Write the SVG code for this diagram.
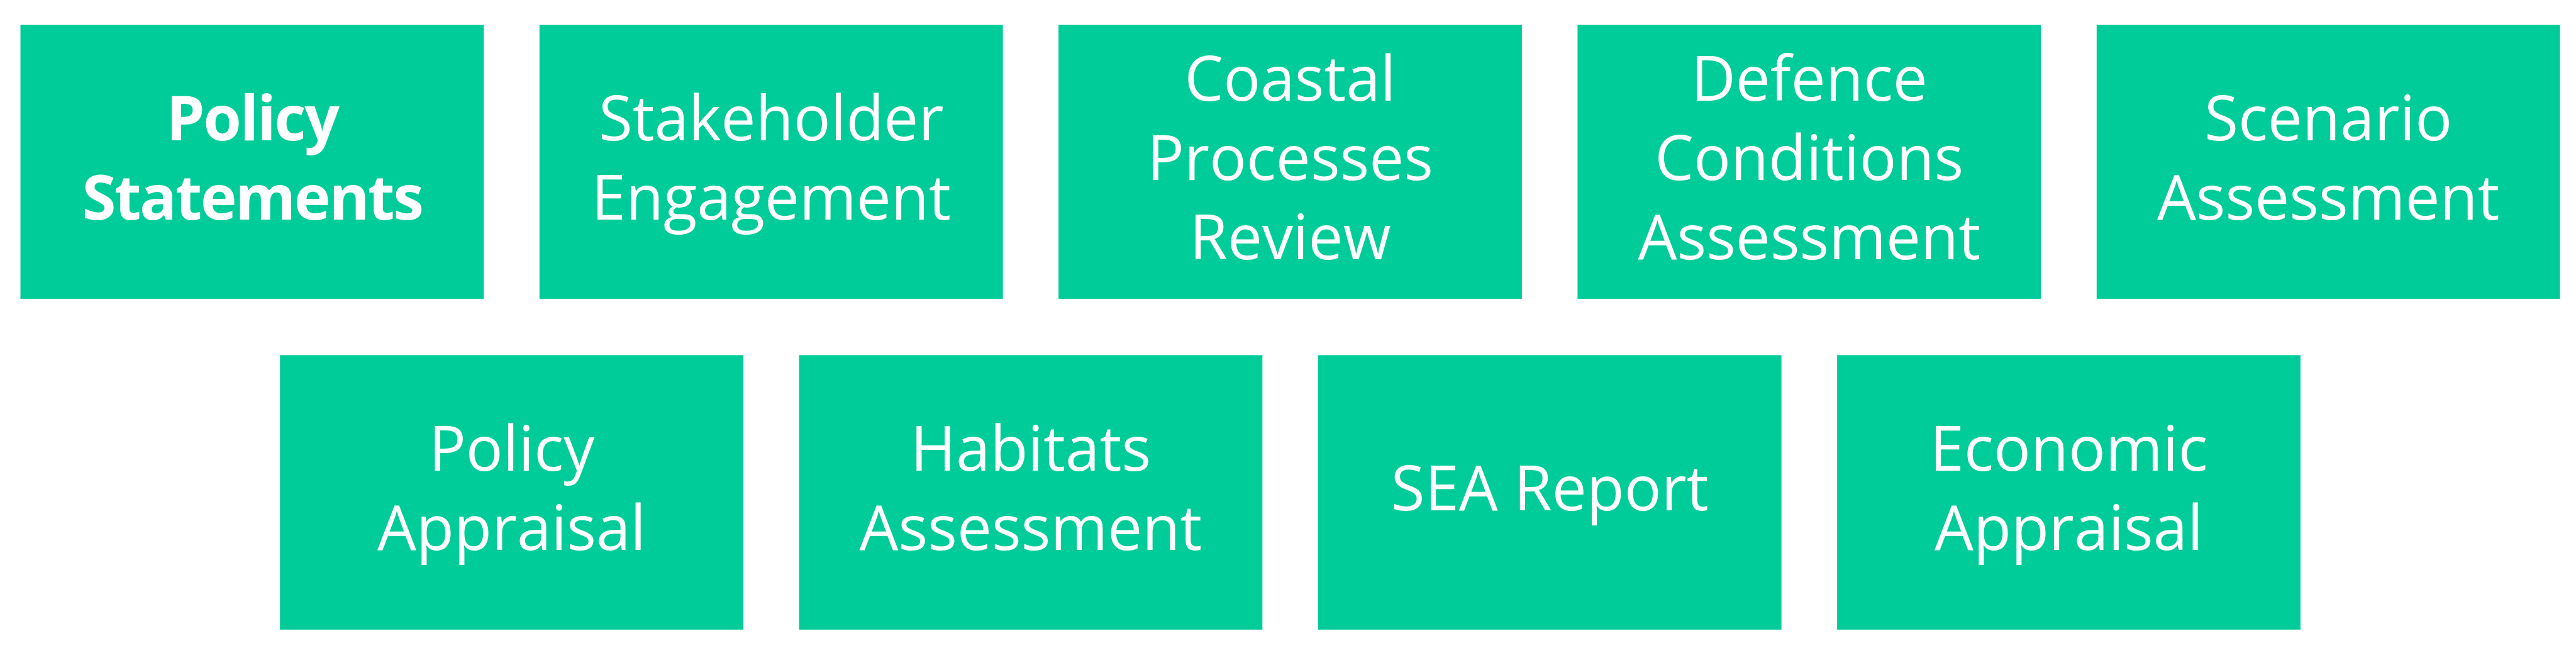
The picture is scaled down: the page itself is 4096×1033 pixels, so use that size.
<svg xmlns="http://www.w3.org/2000/svg" width="4096" height="1033" viewBox="0 0 4096 1033">
<style>
.box{fill:#00CC99;}
.lbl{font-family:"Open Sans","Noto Sans","Liberation Sans",sans-serif;font-size:98px;fill:#FFFFFF;text-anchor:middle;}
.bold{font-weight:700;letter-spacing:-2.5px;}
</style>
<rect x="0" y="0" width="4096" height="1033" fill="#FFFFFF"/>
<g id="connectors"></g>
<g id="node-policy-statements">
<rect class="box" x="32.5" y="39.6" width="736.8" height="435.3"/>
<text class="lbl bold" x="400.9" y="223">Policy</text>
<text class="lbl bold" x="400.9" y="349">Statements</text>
</g>
<g id="node-stakeholder-engagement">
<rect class="box" x="857.8" y="39.6" width="736.8" height="435.3"/>
<text class="lbl" x="1226.2" y="223">Stakeholder</text>
<text class="lbl" x="1226.2" y="349">Engagement</text>
</g>
<g id="node-coastal-processes-review">
<rect class="box" x="1683.1" y="39.6" width="736.8" height="435.3"/>
<text class="lbl" x="2051.5" y="160">Coastal</text>
<text class="lbl" x="2051.5" y="286">Processes</text>
<text class="lbl" x="2051.5" y="412">Review</text>
</g>
<g id="node-defence-conditions-assessment">
<rect class="box" x="2508.4" y="39.6" width="736.8" height="435.3"/>
<text class="lbl" x="2876.8" y="160">Defence</text>
<text class="lbl" x="2876.8" y="286">Conditions</text>
<text class="lbl" x="2876.8" y="412">Assessment</text>
</g>
<g id="node-scenario-assessment">
<rect class="box" x="3333.8" y="39.6" width="736.8" height="435.3"/>
<text class="lbl" x="3702.2" y="223">Scenario</text>
<text class="lbl" x="3702.2" y="349">Assessment</text>
</g>
<g id="node-policy-appraisal">
<rect class="box" x="445.2" y="564.4" width="736.8" height="436.3"/>
<text class="lbl" x="813.6" y="748">Policy</text>
<text class="lbl" x="813.6" y="874">Appraisal</text>
</g>
<g id="node-habitats-assessment">
<rect class="box" x="1270.5" y="564.4" width="736.8" height="436.3"/>
<text class="lbl" x="1638.9" y="748">Habitats</text>
<text class="lbl" x="1638.9" y="874">Assessment</text>
</g>
<g id="node-sea-report">
<rect class="box" x="2095.8" y="564.4" width="736.8" height="436.3"/>
<text class="lbl" x="2464.2" y="811">SEA Report</text>
</g>
<g id="node-economic-appraisal">
<rect class="box" x="2921.1" y="564.4" width="736.8" height="436.3"/>
<text class="lbl" x="3289.5" y="748">Economic</text>
<text class="lbl" x="3289.5" y="874">Appraisal</text>
</g>
</svg>
